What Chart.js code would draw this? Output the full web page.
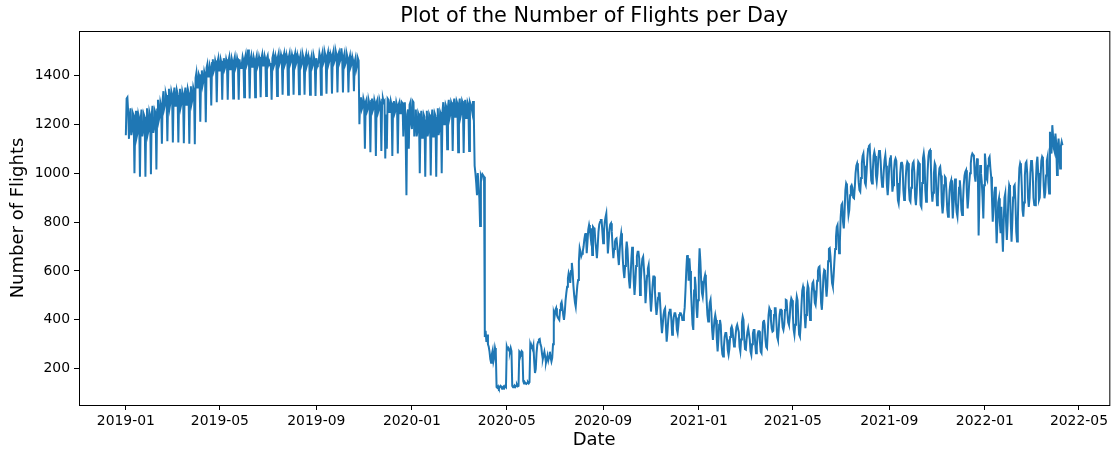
<!DOCTYPE html>
<html>
<head>
<meta charset="utf-8">
<script src="https://cdn.jsdelivr.net/npm/chart.js@4.4.1/dist/chart.umd.min.js"></script>
<style>
  html, body { margin: 0; padding: 0; background: #ffffff; }
  canvas { display: block; }
</style>
</head>
<body>
<canvas id="chart" width="1111" height="452"></canvas>
<script>
// Daily flight counts, one value per day starting on this date.
const startDate = '2019-01-01';

// 2019 (Tue 1 Jan .. Tue 31 Dec), rows are Sun..Sat weeks
const flights2019 = [
  1155, 1305, 1310, 1250, 1140,
  1225, 1265, 1155, 1175, 1245, 1235, 1000,
  1215, 1255, 1150, 1165, 1240, 1225, 985,
  1220, 1260, 1150, 1170, 1240, 1230, 985,
  1225, 1265, 1160, 1175, 1250, 1235, 995,
  1235, 1275, 1165, 1185, 1255, 1245, 1015,
  1260, 1300, 1215, 1230, 1290, 1275, 1120,
  1300, 1335, 1265, 1280, 1325, 1310, 1130,
  1315, 1345, 1270, 1290, 1335, 1320, 1125,
  1320, 1350, 1275, 1290, 1340, 1325, 1125,
  1315, 1345, 1270, 1285, 1335, 1320, 1122,
  1320, 1350, 1280, 1295, 1345, 1330, 1120,
  1325, 1355, 1285, 1300, 1350, 1335, 1118,
  1390, 1410, 1350, 1365, 1405, 1395, 1210,
  1400, 1420, 1360, 1375, 1415, 1400, 1208,
  1430, 1445, 1395, 1405, 1440, 1425, 1277,
  1450, 1465, 1415, 1425, 1460, 1445, 1290,
  1455, 1470, 1420, 1430, 1465, 1450, 1300,
  1455, 1470, 1425, 1435, 1465, 1450, 1300,
  1460, 1475, 1425, 1435, 1470, 1455, 1305,
  1460, 1475, 1430, 1440, 1470, 1455, 1300,
  1465, 1440, 1430, 1445, 1475, 1460, 1310,
  1470, 1485, 1440, 1450, 1505, 1470, 1305,
  1465, 1480, 1435, 1445, 1475, 1460, 1310,
  1465, 1480, 1435, 1445, 1475, 1460, 1310,
  1470, 1485, 1440, 1450, 1480, 1465, 1315,
  1470, 1480, 1445, 1455, 1440, 1450, 1300,
  1470, 1485, 1440, 1450, 1480, 1465, 1315,
  1475, 1490, 1445, 1455, 1485, 1470, 1320,
  1475, 1490, 1445, 1455, 1485, 1470, 1320,
  1475, 1490, 1448, 1458, 1485, 1470, 1320,
  1475, 1490, 1445, 1455, 1485, 1472, 1322,
  1470, 1485, 1440, 1450, 1480, 1465, 1320,
  1470, 1485, 1440, 1452, 1480, 1465, 1320,
  1465, 1480, 1435, 1445, 1475, 1460, 1315,
  1470, 1450, 1445, 1455, 1490, 1475, 1320,
  1480, 1495, 1450, 1460, 1490, 1475, 1325,
  1480, 1495, 1450, 1462, 1490, 1478, 1325,
  1485, 1500, 1455, 1465, 1495, 1480, 1330,
  1485, 1495, 1455, 1465, 1510, 1480, 1330,
  1475, 1490, 1445, 1455, 1485, 1470, 1330,
  1465, 1480, 1435, 1445, 1475, 1460, 1335,
  1455, 1470, 1425, 1440, 1470, 1460, 1200,
  1300, 1310, 1260, 1270, 1305, 1290, 1100,
  1290, 1300, 1255, 1265, 1295, 1280, 1085,
  1295, 1305, 1255, 1265, 1300, 1285, 1070,
  1290, 1300, 1250, 1262, 1295, 1282, 1090,
  1300, 1305, 1290, 1295, 1060, 1240, 1100,
  1305, 1300, 1250, 1260, 1295, 1280, 1070,
  1285, 1295, 1245, 1255, 1290, 1275, 1080,
  1280, 1290, 1245, 1255, 1290, 1285, 1150,
  1285, 1290, 1150, 910, 1240, 1260, 1100,
  1280, 1290, 1200
];

// 2020 (Wed 1 Jan .. Thu 31 Dec), rows are Sun..Sat weeks
const flights2020 = [
  1180, 1295, 1290, 1150,
  1220, 1260, 1150, 1170, 1245, 1235, 1000,
  1215, 1255, 1145, 1165, 1240, 1230, 985,
  1215, 1255, 1150, 1170, 1240, 1230, 990,
  1220, 1260, 1150, 1170, 1245, 1235, 985,
  1225, 1265, 1155, 1175, 1250, 1240, 1000,
  1250, 1290, 1200, 1220, 1280, 1270, 1098,
  1270, 1300, 1225, 1240, 1290, 1280, 1090,
  1275, 1305, 1230, 1245, 1295, 1285, 1085,
  1275, 1305, 1230, 1245, 1295, 1285, 1082,
  1270, 1300, 1225, 1240, 1290, 1280, 1090,
  1290, 1280, 1270, 1250, 1295, 1230, 1030,
  1000, 960, 910, 1000, 950, 900, 784,
  990, 980, 995, 990, 985, 330, 355,
  310, 340, 300, 290, 270, 240, 225,
  260, 275, 230, 245, 285, 270, 125,
  122, 128, 120, 125, 130, 127, 118,
  125, 128, 122, 130, 126, 291, 280,
  285, 275, 270, 285, 272, 130, 125,
  128, 132, 126, 130, 135, 128, 130,
  270, 265, 260, 272, 268, 150, 140,
  145, 140, 138, 142, 145, 140, 145,
  298, 285, 290, 280, 295, 230, 183,
  200, 265, 300, 310, 320, 322, 300,
  290, 260, 240, 255, 270, 250, 225,
  240, 255, 235, 250, 270, 245, 230,
  245, 300, 428, 415, 440, 448, 420,
  410, 405, 400, 440, 465, 473, 450,
  420, 400, 430, 480, 510, 535, 570,
  592, 580, 551, 600, 633, 600, 540,
  500, 470, 453, 500, 540, 563, 640,
  694, 680, 660, 670, 680, 700, 730,
  750, 755, 673, 720, 770, 788, 770,
  740, 774, 665, 780, 775, 774, 720,
  690, 652, 700, 760, 790, 800, 808,
  808, 760, 713, 760, 800, 820, 835,
  760, 672, 720, 770, 790, 795, 760,
  700, 652, 690, 720, 730, 733, 700,
  660, 624, 680, 730, 754, 720, 650,
  600, 571, 620, 680, 720, 690, 620,
  560, 529, 580, 650, 699, 660, 560,
  502, 550, 620, 660, 679, 679, 650,
  502, 560, 620, 650, 658, 658, 560,
  468, 520, 580, 610, 624, 560, 490,
  434, 480, 540, 577, 577, 520, 460,
  420, 450, 490, 509, 509, 450, 390,
  346, 380, 420, 440, 447, 447, 311,
  350, 400, 430, 441, 441, 400, 339,
  370, 410, 427, 427, 410, 360, 346,
  380, 420, 427, 427, 420, 400, 400,
  420, 450, 520, 600, 660, 665, 560,
  652, 600, 520, 450, 380, 359, 520,
  576, 540, 450, 408, 480
];

// 2021 (Fri 1 Jan .. Fri 31 Dec), rows of seven days from 1 Jan
const flights2021 = [
  600, 693, 640, 560, 510, 494, 530,
  570, 584, 560, 480, 420, 393, 430,
  470, 482, 430, 360, 318, 360, 400,
  420, 400, 320, 271, 320, 380, 400,
  380, 300, 260, 250, 290, 330, 346,
  346, 320, 275, 257, 280, 330, 365,
  373, 360, 320, 291, 300, 340, 370,
  380, 380, 350, 290, 271, 320, 390,
  413, 400, 320, 280, 278, 320, 350,
  366, 366, 320, 270, 257, 300, 345,
  359, 359, 300, 264, 290, 340, 353,
  353, 310, 270, 264, 330, 390, 400,
  380, 320, 290, 285, 350, 420, 448,
  440, 400, 365, 352, 355, 420, 448,
  448, 390, 330, 318, 360, 420, 441,
  441, 410, 370, 359, 380, 440, 482,
  480, 430, 390, 380, 410, 470, 488,
  480, 420, 360, 339, 380, 460, 495,
  480, 400, 340, 332, 380, 460, 520,
  536, 520, 420, 366, 420, 510, 543,
  530, 440, 400, 440, 510, 550, 556,
  520, 470, 461, 500, 560, 600, 615,
  618, 560, 470, 441, 500, 580, 604,
  600, 540, 495, 540, 640, 690, 693,
  660, 600, 550, 536, 580, 640, 690,
  740, 780, 788, 720, 672, 720, 820,
  870, 876, 800, 774, 840, 930, 958,
  950, 880, 829, 850, 910, 945, 951,
  940, 900, 897, 940, 1000, 1030, 1040,
  1020, 960, 930, 924, 980, 1040, 1070,
  1080, 1030, 960, 951, 1000, 1060, 1100,
  1110, 1114, 1040, 970, 958, 1010, 1070,
  1087, 1070, 990, 965, 1000, 1060, 1090,
  1094, 1050, 980, 944, 951, 1010, 1053,
  1073, 1030, 950, 910, 960, 1030, 1060,
  1073, 1000, 924, 950, 1010, 1050, 1060,
  1050, 960, 890, 876, 920, 1000, 1040,
  1046, 1030, 930, 890, 900, 980, 1030,
  1046, 1040, 940, 890, 883, 940, 1010,
  1040, 1046, 1000, 900, 869, 920, 1000,
  1046, 1040, 950, 870, 862, 960, 1060,
  1080, 1050, 930, 883, 920, 1010, 1070,
  1090, 1094, 1040, 930, 883, 920, 1000,
  1040, 1030, 930, 869, 900, 980, 1020,
  1026, 990, 880, 835, 870, 950, 985,
  980, 920, 850, 822, 860, 930, 960,
  971, 900, 815, 870, 950, 978, 880,
  840, 822, 880, 940, 971, 930, 850,
  829, 880, 950, 990, 1005, 1012, 920,
  856, 900, 960, 999, 1040, 1070, 1080,
  1075, 1067, 990, 965, 1020, 1060, 1010,
  745, 900, 1033, 1000, 965, 900, 815,
  950
];

// 2022 (Sat 1 Jan .. Sun 10 Apr), rows of seven days from 1 Jan
const flights2022 = [
  1080, 1040, 980, 971, 1030, 1060, 1067,
  1020, 985, 900, 801, 860, 920, 944,
  820, 713, 800, 880, 897, 800, 754,
  862, 760, 679, 800, 900, 917, 800,
  727, 800, 900, 951, 940, 800, 720,
  800, 900, 945, 951, 880, 760, 720,
  800, 940, 1020, 1040, 1030, 950, 850,
  822, 880, 990, 1040, 1046, 1000, 900,
  862, 900, 1000, 1050, 1053, 1000, 900,
  870, 869, 960, 1040, 1067, 1000, 890,
  900, 980, 1050, 1067, 1060, 950, 897,
  920, 990, 1050, 1067, 960, 917, 1169,
  1100, 1080, 1196, 1150, 1100, 1087, 1162,
  1120, 992, 1100, 1141, 1080, 1019, 1110,
  1128, 1114
];

// Axis ticks and limits (in days from startDate)
const xTickLabels = ['2019-01', '2019-05', '2019-09', '2020-01', '2020-05', '2020-09',
                     '2021-01', '2021-05', '2021-09', '2022-01', '2022-05'];
const yTickValues = [200, 400, 600, 800, 1000, 1200, 1400];
const xLimits = [-59.75, 1254.75];
const yLimits = [52, 1581];

const DAY_MS = 86400000;
const originMs = Date.parse(startDate + 'T00:00:00Z');
const dayOffset = (isoDate) => Math.round((Date.parse(isoDate + 'T00:00:00Z') - originMs) / DAY_MS);

const dailyFlights = [].concat(flights2019, flights2020, flights2021, flights2022);
const points = dailyFlights.map((v, i) => ({ x: i, y: v }));
const xTickDays = xTickLabels.map(lbl => dayOffset(lbl + '-01'));
const labelForDay = new Map(xTickDays.map((d, i) => [d, xTickLabels[i]]));

const FONT = "'DejaVu Sans', 'Liberation Sans', sans-serif";

// Full box around the plot plus the title centred over it
const frameAndTitle = {
  id: 'frameAndTitle',
  afterDraw(chart) {
    const { ctx, chartArea: a } = chart;
    ctx.save();
    ctx.strokeStyle = '#000';
    ctx.lineWidth = 1;
    ctx.strokeRect(a.left + 0.5, a.top + 0.5, a.right - a.left, a.bottom - a.top);
    ctx.fillStyle = '#000';
    ctx.font = `20.8px ${FONT}`;
    ctx.textAlign = 'center';
    ctx.textBaseline = 'middle';
    ctx.fillText('Plot of the Number of Flights per Day', (a.left + a.right) / 2, 16.5);
    ctx.restore();
  }
};

new Chart(document.getElementById('chart'), {
  type: 'line',
  data: {
    datasets: [{
      data: points,
      borderColor: '#1f77b4',
      borderWidth: 2,
      pointRadius: 0,
      tension: 0,
      fill: false
    }]
  },
  options: {
    responsive: false,
    animation: false,
    devicePixelRatio: 1,
    normalized: true,
    layout: { padding: { top: 31, right: 1, bottom: 0, left: 0 } },
    plugins: {
      legend: { display: false },
      tooltip: { enabled: false },
      title: { display: false }
    },
    scales: {
      x: {
        type: 'linear',
        min: xLimits[0],
        max: xLimits[1],
        afterBuildTicks: (scale) => { scale.ticks = xTickDays.map(d => ({ value: d })); },
        afterFit: (scale) => { scale.height = 47; },
        ticks: {
          autoSkip: false,
          maxRotation: 0,
          color: '#000',
          padding: 3,
          font: { family: FONT, size: 13.9 },
          callback: (value) => labelForDay.get(value) ?? ''
        },
        grid: { drawOnChartArea: false, drawTicks: true, tickLength: 5, color: '#000', lineWidth: 1 },
        border: { display: false },
        title: {
          display: true,
          text: 'Date',
          color: '#000',
          font: { family: FONT, size: 18 },
          padding: { top: 0, bottom: 0.5 }
        }
      },
      y: {
        type: 'linear',
        min: yLimits[0],
        max: yLimits[1],
        afterBuildTicks: (scale) => { scale.ticks = yTickValues.map(v => ({ value: v })); },
        afterFit: (scale) => { scale.width = 79; },
        ticks: {
          color: '#000',
          padding: 4,
          font: { family: FONT, size: 13.9 },
          callback: (value) => String(value)
        },
        grid: { drawOnChartArea: false, drawTicks: true, tickLength: 5, color: '#000', lineWidth: 1 },
        border: { display: false },
        title: {
          display: true,
          text: 'Number of Flights',
          color: '#000',
          font: { family: FONT, size: 18 },
          padding: { top: 8, bottom: 0 }
        }
      }
    }
  },
  plugins: [frameAndTitle]
});
</script>
</body>
</html>
